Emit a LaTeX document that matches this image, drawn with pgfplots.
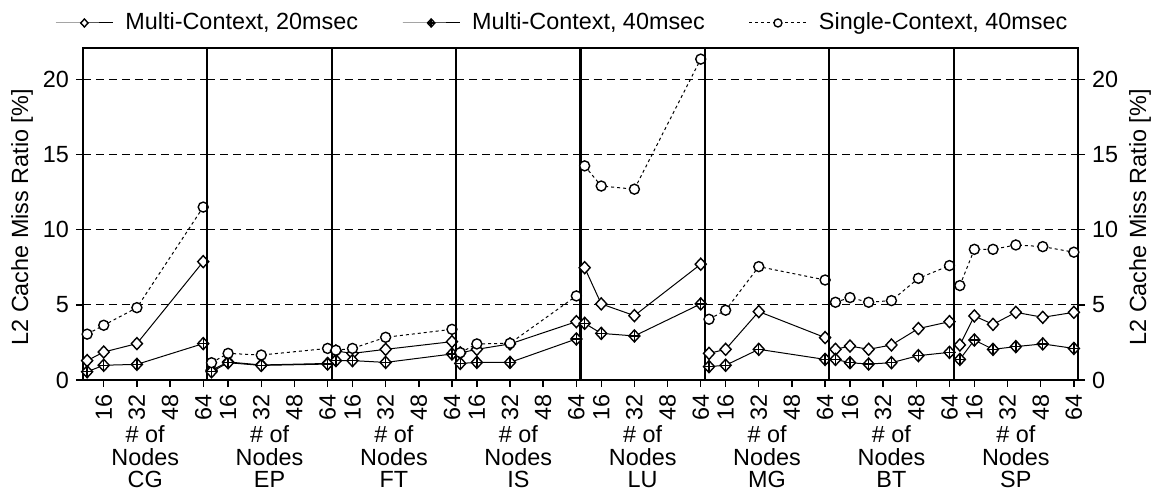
\documentclass[border=0pt]{standalone}
\usepackage{fontspec}
\setmainfont{Liberation Sans}
\usepackage{pgfplots}
\pgfplotsset{compat=1.18}

\pgfdeclareplotmark{dia}{%
  \pgfpathmoveto{\pgfqpoint{0pt}{\pgfplotmarksize}}%
  \pgfpathlineto{\pgfqpoint{0.92\pgfplotmarksize}{0pt}}%
  \pgfpathlineto{\pgfqpoint{0pt}{-\pgfplotmarksize}}%
  \pgfpathlineto{\pgfqpoint{-0.92\pgfplotmarksize}{0pt}}%
  \pgfpathclose
  \pgfusepathqfillstroke}
\pgfdeclareplotmark{diaplus}{%
  \pgfpathmoveto{\pgfqpoint{0pt}{\pgfplotmarksize}}%
  \pgfpathlineto{\pgfqpoint{0.92\pgfplotmarksize}{0pt}}%
  \pgfpathlineto{\pgfqpoint{0pt}{-\pgfplotmarksize}}%
  \pgfpathlineto{\pgfqpoint{-0.92\pgfplotmarksize}{0pt}}%
  \pgfpathclose
  \pgfusepathqfillstroke
  \pgfpathmoveto{\pgfqpoint{0pt}{\pgfplotmarksize}}%
  \pgfpathlineto{\pgfqpoint{0pt}{-\pgfplotmarksize}}%
  \pgfpathmoveto{\pgfqpoint{0.92\pgfplotmarksize}{0pt}}%
  \pgfpathlineto{\pgfqpoint{-0.92\pgfplotmarksize}{0pt}}%
  \pgfusepathqstroke}

\pgfplotsset{
  panel/.style={
    scale only axis, width=62.1875pt, height=166pt,
    xmin=6, xmax=66, ymin=0, ymax=22.08,
    xtick={16,32,48,64}, xtick pos=bottom, tick align=outside,
    ytick={0,5,10,15,20}, ymajorgrids,
    major grid style={black, line width=0.6pt, dash pattern=on 4pt off 2.5pt},
    major tick length=3.5pt,
    every tick/.style={black, line width=0.7pt},
    axis line style={line width=1pt},
    xticklabel style={rotate=90, anchor=east},
    /pgf/number format/assume math mode=true,
    font=\fontsize{11.7}{14}\selectfont,
    every axis x label/.style={at={(axis description cs:0.5,0)}, anchor=north, yshift=-22.5pt, align=center, inner sep=0pt, font=\fontsize{11.7}{11.4}\selectfont},
    clip=false,
  },
  inner/.style={yticklabels={}, ytick style={draw=none}},
  m20/.style={black, line width=0.5pt, mark=dia, mark size=3pt, mark options={solid, fill=white, line width=0.7pt}},
  m40/.style={black, line width=0.5pt, mark=diaplus, mark size=3pt, mark options={solid, fill=white, line width=0.7pt}},
  s40/.style={black, line width=0.5pt, dash pattern=on 1.5pt off 1.5pt, mark=*, mark size=2.5pt, mark options={solid, fill=white, line width=0.7pt}},
}

\begin{document}
\begin{tikzpicture}
% CG
\begin{axis}[panel, at={(0pt,0pt)}, ytick pos=left,
  xlabel={\# of\\Nodes\\CG},
  ylabel={L2 Cache Miss Ratio [\%]},
  every axis y label/.style={at={(axis description cs:-0.4905,0.49)}, rotate=90, anchor=center},
  legend style={at={(axis description cs:-0.2251,1.0753)}, anchor=west, draw=none, fill=none,
    legend columns=3, inner sep=0pt, column sep=4pt, font=\fontsize{11.7}{14}\selectfont},
  legend cell align=left,
  legend image code/.code={\draw[mark repeat=2, mark phase=2, #1, mark size=2pt] plot coordinates {(0pt,0pt)(14.25pt,0pt)(28.5pt,0pt)};},
]
\addplot[m20] coordinates {(8,1.29) (16,1.86) (32,2.42) (64,7.87)};
\addlegendentry{Multi-Context, 20msec\hspace*{16pt}}
\addplot[m40] coordinates {(8,0.55) (16,0.98) (32,1.04) (64,2.42)};
\addlegendentry{Multi-Context, 40msec\hspace*{16pt}}
\addplot[s40] coordinates {(8,3.05) (16,3.64) (32,4.81) (64,11.5)};
\addlegendentry{Single-Context, 40msec}
\end{axis}
% EP
\begin{axis}[panel, inner, at={(62.1875pt,0pt)}, xlabel={\# of\\Nodes\\EP}]
\addplot[m20] coordinates {(8,0.65) (16,1.2) (32,1.0) (64,1.1)};
\addplot[m40] coordinates {(8,0.55) (16,1.15) (32,0.97) (64,1.06)};
\addplot[s40] coordinates {(8,1.15) (16,1.77) (32,1.66) (64,2.1)};
\end{axis}
% FT
\begin{axis}[panel, inner, at={(124.375pt,0pt)}, xlabel={\# of\\Nodes\\FT}]
\addplot[m20] coordinates {(8,1.93) (16,1.77) (32,2.04) (64,2.55)};
\addplot[m40] coordinates {(8,1.29) (16,1.29) (32,1.17) (64,1.73)};
\addplot[s40] coordinates {(8,1.98) (16,2.1) (32,2.84) (64,3.37)};
\end{axis}
% IS
\begin{axis}[panel, inner, at={(186.5625pt,0pt)}, xlabel={\# of\\Nodes\\IS}]
\addplot[m20] coordinates {(8,1.8) (16,2.04) (32,2.4) (64,3.88)};
\addplot[m40] coordinates {(8,1.1) (16,1.17) (32,1.17) (64,2.73)};
\addplot[s40] coordinates {(8,1.82) (16,2.4) (32,2.44) (64,5.59)};
\end{axis}
% LU
\begin{axis}[panel, inner, at={(248.75pt,0pt)}, xlabel={\# of\\Nodes\\LU}]
\addplot[m20] coordinates {(8,7.47) (16,5.06) (32,4.28) (64,7.7)};
\addplot[m40] coordinates {(8,3.77) (16,3.1) (32,2.93) (64,5.06)};
\addplot[s40] coordinates {(8,14.24) (16,12.9) (32,12.69) (64,21.34)};
\end{axis}
% MG
\begin{axis}[panel, inner, at={(310.9375pt,0pt)}, xlabel={\# of\\Nodes\\MG}]
\addplot[m20] coordinates {(8,1.77) (16,2.04) (32,4.55) (64,2.82)};
\addplot[m40] coordinates {(8,0.89) (16,0.98) (32,2.04) (64,1.37)};
\addplot[s40] coordinates {(8,4.04) (16,4.64) (32,7.54) (64,6.65)};
\end{axis}
% BT
\begin{axis}[panel, inner, at={(373.125pt,0pt)}, xlabel={\# of\\Nodes\\BT}]
\addplot[m20] coordinates {(9,2.04) (16,2.26) (25,2.04) (36,2.33) (49,3.42) (64,3.88)};
\addplot[m40] coordinates {(9,1.37) (16,1.15) (25,1.06) (36,1.15) (49,1.62) (64,1.84)};
\addplot[s40] coordinates {(9,5.17) (16,5.48) (25,5.17) (36,5.28) (49,6.76) (64,7.61)};
\end{axis}
% SP
\begin{axis}[panel, at={(435.3125pt,0pt)}, xlabel={\# of\\Nodes\\SP},
  ytick pos=right, yticklabel pos=right,
  ylabel={L2 Cache Miss Ratio [\%]},
  every axis y label/.style={at={(axis description cs:1.4985,0.49)}, rotate=90, anchor=center}]
\addplot[m20] coordinates {(9,2.33) (16,4.26) (25,3.7) (36,4.5) (49,4.17) (64,4.5)};
\addplot[m40] coordinates {(9,1.37) (16,2.66) (25,2.04) (36,2.22) (49,2.4) (64,2.1)};
\addplot[s40] coordinates {(9,6.28) (16,8.69) (25,8.69) (36,8.98) (49,8.87) (64,8.5)};
\end{axis}
\pgfresetboundingbox
\path[use as bounding box] (-41.5pt,-56pt) rectangle (536pt,190pt);
\end{tikzpicture}
\end{document}
